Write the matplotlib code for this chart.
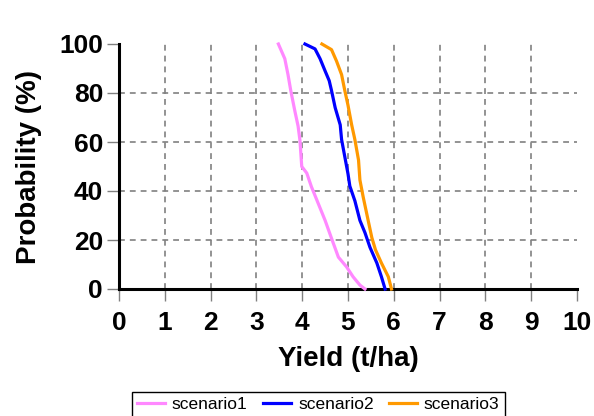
import matplotlib.pyplot as plt

# Yield (t/ha) vs probability of exceedance (%)
prob1 = [100, 94, 87.5, 81, 72.6, 66.5, 60.8, 50, 47.3, 41.8, 36.3, 28, 20.7, 13, 9, 5, 1.6, 0]
yield1 = [3.48, 3.62, 3.69, 3.75, 3.84, 3.91, 3.95, 3.99, 4.1, 4.2, 4.32, 4.5, 4.64, 4.79, 4.97, 5.11, 5.26, 5.37]

prob2 = [100, 98, 94, 89, 85, 81, 74, 67, 61, 54, 47, 42, 36, 28, 23, 17, 10.6, 5, 0]
yield2 = [4.06, 4.28, 4.39, 4.5, 4.59, 4.64, 4.72, 4.83, 4.86, 4.93, 5.0, 5.04, 5.15, 5.26, 5.37, 5.48, 5.63, 5.73, 5.81]

prob3 = [100, 97.7, 93, 87.5, 81, 75, 67, 61, 52.6, 44.5, 37.7, 28, 21, 16, 10.6, 5, 0]
yield3 = [4.43, 4.64, 4.75, 4.86, 4.93, 5.0, 5.08, 5.15, 5.23, 5.26, 5.33, 5.44, 5.52, 5.6, 5.73, 5.88, 5.95]

names = ["scenario1", "scenario2", "scenario3"]
colors = ["#ff88ff", "#0000ff", "#ff9900"]

plt.rcParams["font.family"] = ["Liberation Sans", "DejaVu Sans"]

fig = plt.figure(figsize=(5.94, 4.16), dpi=100)
ax = fig.add_axes([119 / 594, 1 - 289 / 416, (577 - 119) / 594, (289 - 44) / 416])

for x, p, name, c in zip([yield1, yield2, yield3], [prob1, prob2, prob3], names, colors):
    ax.plot(x, p, color=c, lw=2.3, label=name, clip_on=False, zorder=3)

ax.set_xlim(0, 10)
ax.set_ylim(0, 100)
ax.set_xticks(range(0, 11))
ax.set_yticks(range(0, 101, 20))

# grid, but not on the right / top borders
for xv in range(1, 10):
    ax.axvline(xv, color="#808080", lw=1.2, ls=(0, (3.5, 3)), zorder=1)
for yv in range(20, 100, 20):
    ax.axhline(yv, color="#808080", lw=1.2, ls=(0, (3.5, 3)), zorder=1)

ax.spines["top"].set_visible(False)
ax.spines["right"].set_visible(False)
ax.spines["left"].set_linewidth(2.2)
ax.spines["bottom"].set_linewidth(2.2)

ax.tick_params(axis="both", direction="out", length=8.5, width=1, color="#808080", labelsize=19)
ax.tick_params(axis="x", pad=7)
ax.tick_params(axis="y", pad=3)
for lbl in ax.get_xticklabels() + ax.get_yticklabels():
    lbl.set_fontweight("bold")

ax.set_xlabel("Yield (t/ha)", fontsize=20, fontweight="bold", labelpad=8)
ax.set_ylabel("Probability (%)", fontsize=20, fontweight="bold", labelpad=12)

fig.legend(loc="upper center", bbox_to_anchor=(0.536, 24 / 416), ncol=3, fontsize=12.5,
           frameon=True, fancybox=False, edgecolor="black", framealpha=1,
           handlelength=1.6, handletextpad=0.4, columnspacing=0.9, borderpad=0.3,
           borderaxespad=0)

fig.savefig("out.png", dpi=100)
